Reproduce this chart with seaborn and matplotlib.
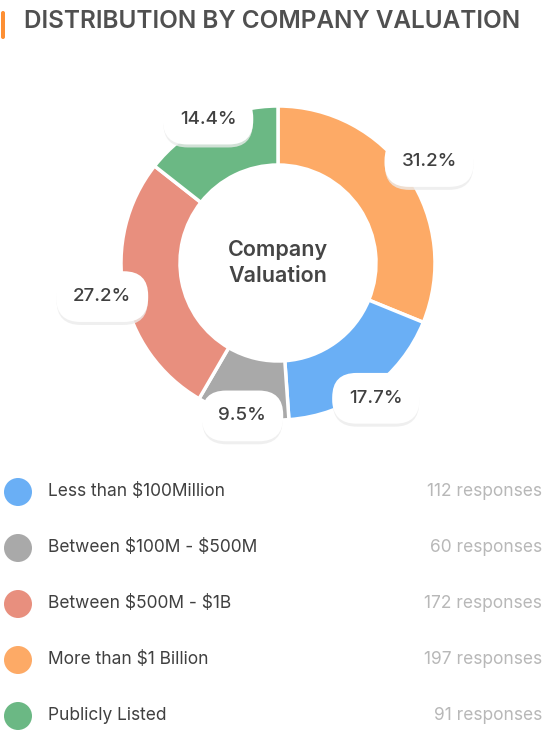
import numpy as np
import matplotlib
matplotlib.use("Agg")
import matplotlib.pyplot as plt
import seaborn as sns

sns.set_theme(style="white")
plt.rcParams['font.family'] = ['Inter', 'DejaVu Sans']

# data (legend order)
categories = ['Less than \\$100Million', 'Between \\$100M - \\$500M', 'Between \\$500M - \\$1B',
              'More than \\$1 Billion', 'Publicly Listed']
responses = [112, 60, 172, 197, 91]
pct_labels = ['17.7%', '9.5%', '27.2%', '31.2%', '14.4%']
colors = ['#6aaff5', '#a9a9a9', '#e88f7e', '#fdaa66', '#6bb884']
pie_order = [3, 0, 1, 2, 4]  # clockwise from 12 o'clock

fig = plt.figure(figsize=(5.44, 7.32), dpi=100)
ax = fig.add_axes([0, 0, 1, 1])

# title
ax.add_patch(matplotlib.patches.FancyBboxPatch((1, 11), 4, 28, boxstyle="round,pad=0,rounding_size=2",
                                               color='#fd8f33', lw=0))
ax.text(24, 21, 'DISTRIBUTION BY COMPANY VALUATION', fontsize=17.5, fontweight='semibold',
        color='#505050', va='center', ha='left')

# donut (y axis is inverted, so counterclock in data = clockwise on screen)
cx, cy, R = 278, 263, 157
vals = [responses[i] for i in pie_order]
cols = [colors[i] for i in pie_order]
ax.pie(vals, colors=cols, startangle=-90, counterclock=True, center=(cx, cy), radius=R,
       wedgeprops=dict(width=R - 98, edgecolor='white', linewidth=2.5), frame=True)
ax.set_xlim(0, 544)
ax.set_ylim(732, 0)
ax.axis('off')
ax.text(cx, cy, 'Company\nValuation', ha='center', va='center', fontsize=15.5,
        color='#454545', fontweight='semibold', linespacing=1.35)

# percent labels
total = sum(vals)
start = 0.0
label_r = [182, 167, 157, 179, 160]
for k, i in enumerate(pie_order):
    frac = responses[i] / total
    mid = (start + frac / 2) * 2 * np.pi
    start += frac
    lx = cx + label_r[k] * np.sin(mid)
    ly = cy - label_r[k] * np.cos(mid)
    ax.text(lx, ly + 3, pct_labels[i], ha='center', va='center', fontsize=13.5,
            color='#ececec', alpha=0.8,
            bbox=dict(boxstyle='round,pad=0.9,rounding_size=1.3', fc='#ececec', ec='none', alpha=0.8))
    ax.text(lx, ly, pct_labels[i], ha='center', va='center', fontsize=13.5, color='#404040',
            fontweight='medium',
            bbox=dict(boxstyle='round,pad=0.9,rounding_size=1.3', fc='white', ec='none'))

# legend
for j, (cat, n, c) in enumerate(zip(categories, responses, colors)):
    y = 492 + 56 * j
    ax.add_patch(matplotlib.patches.Circle((18, y), 14, color=c, lw=0))
    ax.text(48, y, cat, ha='left', va='center', fontsize=12.5, color='#404040')
    ax.text(542, y, f'{n} responses', ha='right', va='center', fontsize=12.5, color='#b8b8b8')

fig.savefig('out.png', dpi=100)
